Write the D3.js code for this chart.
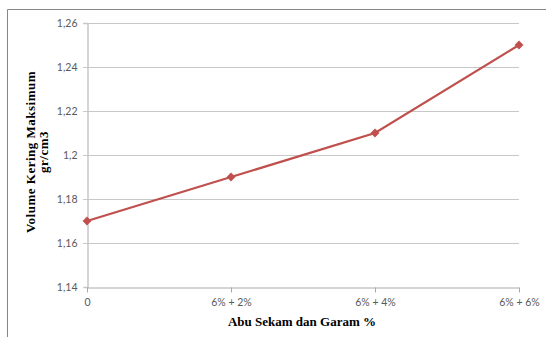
<!DOCTYPE html>
<html>
<head>
<meta charset="utf-8">
<script src="https://cdn.jsdelivr.net/npm/d3@7"></script>
<style>
  body { margin: 0; background: #fff; }
  svg { display: block; }
</style>
</head>
<body>
<div id="chart"></div>
<script>
// data
const CATEGORIES = ["0", "6% + 2%", "6% + 4%", "6% + 6%"];
const VALUES = [1.17, 1.19, 1.21, 1.25];
const Y_TICKS = [1.14, 1.16, 1.18, 1.2, 1.22, 1.24, 1.26];
const X_TITLE = "Abu Sekam dan Garam %";
const Y_TITLE = ["Volume Kering Maksimum", "gr/cm3"];

const width = 546, height = 337;
const plot = { left: 87, right: 519, top: 23, bottom: 287 };

const svg = d3.select("#chart").append("svg")
  .attr("width", width)
  .attr("height", height);

// outer frame (only left and top edges visible)
svg.append("path")
  .attr("d", `M7.5,${height} V9.5 H${width}`)
  .attr("fill", "none")
  .attr("stroke", "#868686")
  .attr("stroke-width", 1);

const x = d3.scalePoint()
  .domain(CATEGORIES)
  .range([plot.left, plot.right]);

const y = d3.scaleLinear()
  .domain([1.14, 1.26])
  .range([plot.bottom, plot.top]);

const fmt = d => String(+d.toFixed(2)).replace(".", ",");

// gridlines
svg.append("g")
  .selectAll("line")
  .data(Y_TICKS.slice(1))
  .join("line")
  .attr("x1", plot.left - 4)
  .attr("x2", plot.right)
  .attr("y1", d => Math.round(y(d)) + 0.5)
  .attr("y2", d => Math.round(y(d)) + 0.5)
  .attr("stroke", "#c8c8c8")
  .attr("stroke-width", 1);

// y axis
const yAxis = svg.append("g")
  .attr("transform", `translate(${plot.left + 0.5},0)`)
  .call(d3.axisLeft(y).tickValues(Y_TICKS).tickFormat(fmt).tickSize(4).tickPadding(6));
yAxis.select(".domain").attr("stroke", "#c8c8c8").attr("stroke-width", 1.5);
yAxis.selectAll(".tick line").attr("stroke", "#c8c8c8");
yAxis.selectAll("text")
  .attr("font-family", "Lato, 'Open Sans', sans-serif")
  .attr("font-size", "10.5px")
  .attr("fill", "#595959");

// x axis
const xAxis = svg.append("g")
  .attr("transform", `translate(0,${plot.bottom + 0.5})`)
  .call(d3.axisBottom(x).tickSize(5).tickPadding(6).tickSizeOuter(0));
xAxis.select(".domain").attr("stroke", "#aaaaaa");
xAxis.selectAll(".tick line").attr("stroke", "#aaaaaa");
xAxis.selectAll("text")
  .attr("font-family", "Lato, 'Open Sans', sans-serif")
  .attr("font-size", "10.5px")
  .attr("fill", "#595959");

// series line
const series = CATEGORIES.map((c, i) => ({ c, v: VALUES[i] }));
svg.append("path")
  .datum(series)
  .attr("d", d3.line().x(d => x(d.c)).y(d => y(d.v)))
  .attr("fill", "none")
  .attr("stroke", "#c0504d")
  .attr("stroke-width", 2.25);

svg.append("g")
  .selectAll("path")
  .data(series)
  .join("path")
  .attr("transform", d => `translate(${x(d.c)},${y(d.v)})`)
  .attr("d", d3.symbol(d3.symbolDiamond2, 50))
  .attr("fill", "#c0504d");

// axis titles
svg.append("text")
  .attr("x", 302)
  .attr("y", 326)
  .attr("text-anchor", "middle")
  .attr("font-family", "'Liberation Serif', serif")
  .attr("font-weight", "bold")
  .attr("font-size", "13px")
  .attr("fill", "#000")
  .text(X_TITLE);

const yTitle = svg.append("text")
  .attr("transform", "translate(35,152) rotate(-90)")
  .attr("text-anchor", "middle")
  .attr("font-family", "'Liberation Serif', serif")
  .attr("font-weight", "bold")
  .attr("font-size", "13px")
  .attr("letter-spacing", "0.5px")
  .attr("fill", "#000");
Y_TITLE.forEach((t, i) => {
  yTitle.append("tspan")
    .attr("x", 0)
    .attr("dy", i === 0 ? "0" : "13")
    .text(t);
});
</script>
</body>
</html>
